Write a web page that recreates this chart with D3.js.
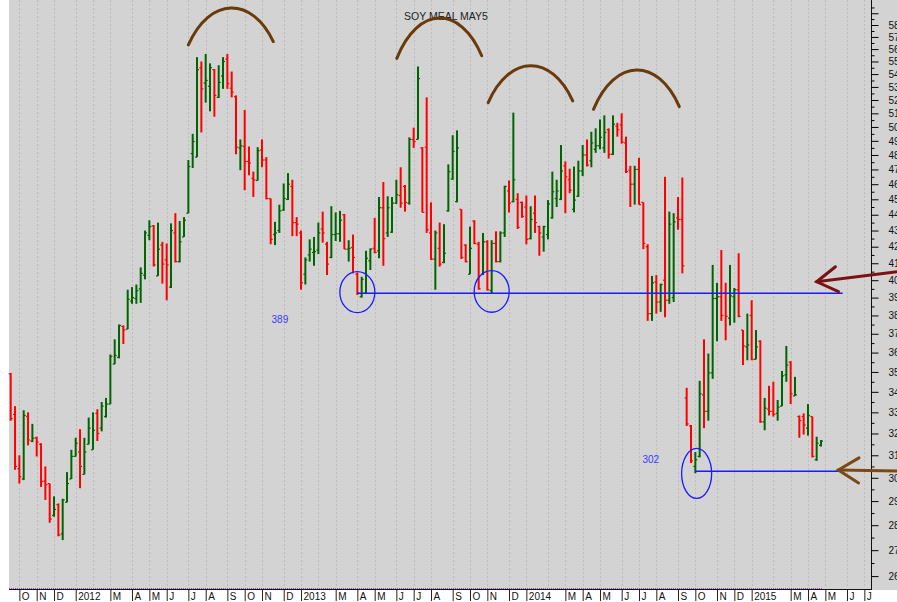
<!DOCTYPE html>
<html lang="en">
<head>
<meta charset="UTF-8">
<title>Soy Meal May5</title>
<script src="https://d3js.org/d3.v7.min.js"></script>
<style>
  body { margin: 0; background: #fff; }
  svg { display: block; font-family: "Liberation Sans", Arial, sans-serif; }
</style>
</head>
<body>
<svg id="chart" width="897" height="602"></svg>
<script>
// weekly bars, first one is the week ending Fri 23 Sep 2011
const firstWeek = new Date(2011, 8, 23);
const lastAxisDate = new Date(2015, 6, 31);

const opens = [
  349, 329, 304, 299.5, 328, 316.5, 318, 315, 298.5, 297.5,
  284, 288.5, 276.5, 289.5, 299.5, 309.5, 311.5, 301.5, 315, 312.5,
  329.5, 322.5, 328, 334, 354, 357.5, 374, 372.5, 388, 389.5,
  395, 403, 427, 433, 402.5, 421, 412, 396, 428.5, 411,
  426, 441, 481, 478.5, 545, 533, 530.5, 543.5, 522, 538.5,
  552, 529, 522.5, 485, 486, 475.5, 464, 462.5, 483.5, 476.5,
  450.5, 427.5, 430, 443, 450, 458.5, 435, 428.5, 403.5, 415,
  416.5, 418, 431, 421.5, 413.5, 427.5, 428, 440, 418.5, 419.5,
  403.5, 390.5, 392.5, 411.5, 419, 417.5, 444.5, 428.5, 429, 447.5,
  452.5, 458.5, 447.5, 491, 491, 485, 485.5, 428.5, 412.5, 419,
  410.5, 442.5, 463.5, 448.5, 443.5, 421, 403.5, 436, 421.5, 403.5,
  423, 394, 422, 411, 428.5, 455.5, 448.5, 450, 448, 445,
  425, 441, 432.5, 426, 427.5, 438, 450.5, 450, 472.5, 463,
  443.5, 452, 469, 480, 476, 484, 486.5, 485, 498, 480.5,
  500.5, 501.5, 488.5, 469.5, 460, 470, 448, 420, 381, 399,
  387.5, 400, 388.5, 390, 438, 437, 337, 323.5, 305, 309.5,
  338.5, 330.5, 349.5, 389.5, 390.5, 392.5, 378.5, 390.5, 394.5, 372,
  363, 380, 356.5, 366, 325.5, 331.5, 330.5, 329.5, 333, 348.5,
  355, 338, 328, 328, 322.5, 328, 308, 314.5
];
const highs = [
  349.5, 333, 310, 331, 330, 324.5, 318.5, 315.5, 305, 297.5,
  292, 289, 291, 302.5, 312.5, 318, 322, 318, 327.5, 330,
  331.5, 335, 337, 359, 367, 375, 374.5, 394.5, 396, 397.5,
  407.5, 430, 436.5, 433.5, 435, 423, 422, 434.5, 441, 436,
  438.5, 476.5, 495, 553.5, 550, 556, 548.5, 544, 547, 553.5,
  556, 542, 523.5, 491, 512.5, 486, 468.5, 485.5, 491, 478.5,
  450.5, 435.5, 446.5, 460.5, 467.5, 463, 438.5, 430, 413.5, 424.5,
  426, 435, 442, 423, 445.5, 441.5, 442.5, 440.5, 424, 427.5,
  404.5, 402, 417.5, 419, 438, 451.5, 461.5, 452, 451.5, 463,
  471.5, 459.5, 492.5, 499.5, 546, 485.5, 522, 448, 430, 435,
  434, 473.5, 494, 497.5, 443.5, 421.5, 432.5, 436.5, 423, 428.5,
  424, 424, 429.5, 429.5, 459, 462.5, 510.5, 454, 448.5, 452.5,
  445.5, 452.5, 433, 433, 449.5, 468.5, 463, 487, 475.5, 470.5,
  472, 476, 487, 491, 496.5, 499, 505.5, 508.5, 499, 508.5,
  503, 510, 493, 472.5, 472.5, 478, 448, 421.5, 402.5, 403,
  398, 465, 442, 441, 451.5, 464.5, 342, 324, 311.5, 345.5,
  367, 359.5, 409, 398.5, 418, 398.5, 409, 395.5, 416, 372,
  381, 388.5, 372, 366.5, 337, 343, 345, 336, 350.5, 363.5,
  355.5, 347.5, 328.5, 329.5, 334, 328, 318.5, 317
];
const lows = [
  326, 303.5, 297.5, 299, 314.5, 316, 309.5, 296, 290.5, 281,
  283.5, 275.5, 274, 289.5, 299.5, 309.5, 295.5, 301.5, 315, 312.5,
  316.5, 321, 327.5, 334, 354, 357, 364.5, 372.5, 386.5, 386.5,
  387, 400.5, 424, 408, 402.5, 398, 388.5, 395.5, 410.5, 410.5,
  426, 441, 471, 478.5, 496, 518, 511.5, 507.5, 521.5, 528.5,
  528.5, 522, 480.5, 469.5, 456, 466, 451.5, 462.5, 471.5, 450,
  421.5, 421, 428.5, 442.5, 449.5, 426.5, 426.5, 394.5, 397.5, 411,
  408.5, 415.5, 422.5, 403, 413, 423.5, 423, 418.5, 411, 404,
  391.5, 390, 392.5, 406, 416, 413, 408.5, 426, 428.5, 447,
  444.5, 442, 446.5, 485, 491, 441.5, 428.5, 412, 394.5, 408,
  410, 442, 463, 448, 412.5, 410.5, 403.5, 421.5, 394.5, 403,
  394, 392.5, 410.5, 410.5, 426, 441.5, 448, 431, 438, 421.5,
  424.5, 428.5, 414.5, 417, 424.5, 437.5, 445, 449.5, 441, 454,
  441.5, 451.5, 465.5, 472, 471.5, 481.5, 484, 481.5, 477.5, 480,
  493, 488, 467.5, 445, 446.5, 446.5, 418.5, 377, 377, 381,
  382, 379, 386.5, 387.5, 430.5, 404, 323.5, 306.5, 302, 309,
  322.5, 326, 346.5, 366, 377, 366.5, 374.5, 376, 379, 353.5,
  356, 356, 356.5, 325, 321.5, 328.5, 328, 326, 333, 345,
  334, 338, 318, 319.5, 319, 309, 307.5, 314
];
const closes = [
  327, 305, 300.5, 328.5, 317, 317.8, 316, 298.5, 297, 282.5,
  286.5, 276, 290.5, 297.5, 309.5, 315.5, 305, 311.5, 322.5, 321.5,
  320, 333, 334, 358, 358.5, 374.5, 372, 389, 390, 394,
  404, 428.5, 432.5, 409, 418.5, 409.5, 409, 430, 411, 423,
  436.5, 472, 489.5, 543.5, 528.5, 535, 545, 523.5, 533.5, 550,
  532.5, 526, 485.5, 486.5, 475.5, 474.5, 463, 483, 476.5, 450.5,
  424.5, 428.5, 442.5, 450.5, 460, 435, 434, 398.5, 412, 418.5,
  417, 428.5, 428.5, 409.5, 427.5, 428, 436.5, 418.5, 419, 413.5,
  392.5, 400.5, 413, 418.5, 416.5, 444.5, 425, 444.5, 447.5, 453,
  447.5, 448, 491, 489.5, 536.5, 441.5, 430.5, 412.5, 428.5, 409.5,
  416, 468.5, 482.5, 485, 413.5, 411, 419, 422, 395, 423,
  394.5, 422, 411, 428.5, 458.5, 447.5, 463, 432, 439, 424.5,
  437, 435, 428.5, 432.5, 447, 455, 455.5, 469, 465, 456,
  449.5, 469, 480, 473, 488.5, 486.5, 492.5, 496, 480.5, 502,
  498, 489, 468.5, 460, 470, 446.5, 422, 381, 398.5, 387.5,
  397.5, 388.5, 434, 435.5, 437, 408.5, 324.5, 307.5, 308, 339,
  330.5, 349.5, 389.5, 390.5, 380, 379.5, 391, 394.5, 379.5, 363.5,
  364, 356.5, 363, 325.5, 332, 330.5, 329, 332.5, 348, 353.5,
  339, 338.5, 326, 324, 328.5, 309.5, 315.5, 316.5
];

const priceLabels = d3.range(260, 590, 10);   // 260 ... 580
const monthLetters = ["J", "F", "M", "A", "M", "J", "J", "A", "S", "O", "N", "D"];
const title = "SOY MEAL MAY5";

// hand drawn notes, positioned by week index and price
const supportLines = [
  { value: 392.5, from: 80, to: 192, label: "389", labelAt: 60.2, labelPrice: 376 },
  { value: 302.9, from: 158, to: 191, label: "302", labelAt: 145.8, labelPrice: 306.7 }
];
const rings = [
  { at: 80, price: 393.1, rx: 17.5, ry: 20.5 },
  { at: 111, price: 393.5, rx: 17.5, ry: 20.8 },
  { at: 158.3, price: 301.9, rx: 15, ry: 25 }
];
const tops = [
  { from: 41, to: 60.6, left: 563.4, right: 566.2, peak: 594.5 },
  { from: 89.1, to: 108.7, left: 552.5, right: 554.6, peak: 585.9 },
  { from: 110.2, to: 129.7, left: 518, right: 519.3, peak: 546.6 },
  { from: 134.5, to: 154.3, left: 513, right: 515, peak: 543.2 }
];
const arrows = [
  { tip: 186, tipPrice: 399.1, tail: 206, tailPrice: 405.4, color: "#7a1212" },
  { tip: 191, tipPrice: 303.4, tail: 206, tailPrice: 302.9, color: "#7b4a14" }
];

const W = 897, plotLeft = 9, axisX = 871.5, plotBottom = 589;

const svg = d3.select("#chart");

const xi = d3.scaleLinear().domain([0, opens.length - 1]).range([10.7, 821]);
const y = d3.scaleLog().domain([260, 580]).range([576.1, 25]);

// background
svg.append("rect")
  .attr("x", plotLeft).attr("y", 0)
  .attr("width", W - plotLeft).attr("height", plotBottom + 1)
  .attr("fill", "#d3d3d3");

// month starts: first weekly bar of each month
const weeks = d3.timeFriday.range(firstWeek, lastAxisDate);
const monthStarts = [];
weeks.forEach((d, i) => {
  if (i > 0 && d.getMonth() !== weeks[i - 1].getMonth()) monthStarts.push({ i, d });
});

svg.append("g")
  .selectAll("line")
  .data(monthStarts)
  .join("line")
  .attr("x1", d => Math.round(xi(d.i)) + 0.5)
  .attr("x2", d => Math.round(xi(d.i)) + 0.5)
  .attr("y1", 0)
  .attr("y2", plotBottom - 1)
  .attr("stroke", "#bdbdbd")
  .attr("stroke-dasharray", "2,2");

// OHLC bars
const bars = opens.map((o, i) => ({ i, o, h: highs[i], l: lows[i], c: closes[i] }));
const bar = svg.append("g")
  .selectAll("g")
  .data(bars)
  .join("g")
  .attr("stroke", d => d.c >= d.o ? "#006400" : "#ff0000");

bar.append("line")
  .attr("x1", d => xi(d.i)).attr("x2", d => xi(d.i))
  .attr("y1", d => y(d.h)).attr("y2", d => y(d.l))
  .attr("stroke-width", 2);
bar.append("line")
  .attr("x1", d => xi(d.i) - 2).attr("x2", d => xi(d.i))
  .attr("y1", d => y(d.o)).attr("y2", d => y(d.o))
  .attr("stroke-width", 1.2);
bar.append("line")
  .attr("x1", d => xi(d.i)).attr("x2", d => xi(d.i) + 2)
  .attr("y1", d => y(d.c)).attr("y2", d => y(d.c))
  .attr("stroke-width", 1.2);

// bottom lines
svg.append("line")
  .attr("x1", plotLeft).attr("x2", axisX)
  .attr("y1", plotBottom + 0.5).attr("y2", plotBottom + 0.5)
  .attr("stroke", "#111");
svg.append("line")
  .attr("x1", plotLeft).attr("x2", xi(opens.length - 1) + 1)
  .attr("y1", plotBottom - 0.5).attr("y2", plotBottom - 0.5)
  .attr("stroke", "#9a48c8")
  .attr("stroke-dasharray", "1,1");

// right price axis
svg.append("line")
  .attr("x1", axisX).attr("x2", axisX)
  .attr("y1", 0).attr("y2", plotBottom + 1)
  .attr("stroke", "#111");

const major = svg.append("g")
  .attr("transform", `translate(${axisX},0)`)
  .call(d3.axisRight(y)
    .tickValues(d3.range(260, 600, 10))
    .tickFormat(d => priceLabels.includes(d) ? d : "")
    .tickSize(7)
    .tickPadding(10));
major.select(".domain").remove();
major.selectAll("text").attr("font-family", "Liberation Sans, Arial, sans-serif").attr("fill", "#111");

const minor = svg.append("g")
  .attr("transform", `translate(${axisX},0)`)
  .call(d3.axisRight(y)
    .tickValues(d3.range(265, 600, 10))
    .tickFormat("")
    .tickSize(3));
minor.select(".domain").remove();

// bottom month axis
const labeled = monthStarts.filter(m => m.d.getMonth() !== 1);
const xAxis = svg.append("g")
  .attr("transform", `translate(0,${plotBottom + 1})`)
  .call(d3.axisBottom(xi)
    .tickValues(labeled.map(m => m.i))
    .tickFormat((v, k) => {
      const d = labeled[k].d;
      return d.getMonth() === 0 ? d.getFullYear() : monthLetters[d.getMonth()];
    })
    .tickSize(11));
xAxis.select(".domain").remove();
xAxis.selectAll(".tick line").attr("stroke", "#222");
xAxis.selectAll("text")
  .attr("text-anchor", "start")
  .attr("x", 2)
  .attr("y", 3)
  .attr("font-family", "Liberation Sans, Arial, sans-serif")
  .attr("fill", "#111");

// title
svg.append("text")
  .attr("x", 446).attr("y", 20)
  .attr("text-anchor", "middle")
  .attr("font-size", 10.5)
  .attr("fill", "#222")
  .text(title);

// support lines and rings
svg.append("g").selectAll("line")
  .data(supportLines)
  .join("line")
  .attr("x1", d => xi(d.from)).attr("x2", d => xi(d.to))
  .attr("y1", d => y(d.value)).attr("y2", d => y(d.value))
  .attr("stroke", "#1a1aff")
  .attr("stroke-width", 1.4);

svg.append("g").selectAll("text")
  .data(supportLines)
  .join("text")
  .attr("x", d => xi(d.labelAt))
  .attr("y", d => y(d.labelPrice))
  .attr("font-size", 10)
  .attr("fill", "#3a3aff")
  .text(d => d.label);

svg.append("g").selectAll("ellipse")
  .data(rings)
  .join("ellipse")
  .attr("cx", d => xi(d.at)).attr("cy", d => y(d.price))
  .attr("rx", d => d.rx).attr("ry", d => d.ry)
  .attr("fill", "none")
  .attr("stroke", "#1a1aff")
  .attr("stroke-width", 1.3);

// brown arches over the tops
svg.append("g").selectAll("path")
  .data(tops)
  .join("path")
  .attr("d", d => {
    const x0 = xi(d.from), x1 = xi(d.to), w = x1 - x0;
    const y0 = y(d.left), y1 = y(d.right), yp = y(d.peak);
    const c = (yp - 0.125 * (y0 + y1)) / 0.75;
    return `M${x0},${y0} C${x0 + 0.25 * w},${c} ${x1 - 0.25 * w},${c} ${x1},${y1}`;
  })
  .attr("fill", "none")
  .attr("stroke", "#6b3a0a")
  .attr("stroke-width", 3)
  .attr("stroke-linecap", "round");

// arrows pointing at the levels
arrows.forEach(a => {
  const tx = xi(a.tip), ty = y(a.tipPrice);
  const ex = xi(a.tail), ey = y(a.tailPrice);
  const ang = Math.atan2(ey - ty, ex - tx);
  const len = 24, spread = 0.55;
  const g = svg.append("g")
    .attr("fill", "none")
    .attr("stroke", a.color)
    .attr("stroke-width", 3)
    .attr("stroke-linecap", "round");
  g.append("line").attr("x1", tx).attr("y1", ty).attr("x2", ex).attr("y2", ey);
  g.append("path")
    .attr("d", `M${tx + len * Math.cos(ang - spread)},${ty + len * Math.sin(ang - spread)}` +
      ` L${tx},${ty} L${tx + len * Math.cos(ang + spread)},${ty + len * Math.sin(ang + spread)}`);
});
</script>
</body>
</html>
